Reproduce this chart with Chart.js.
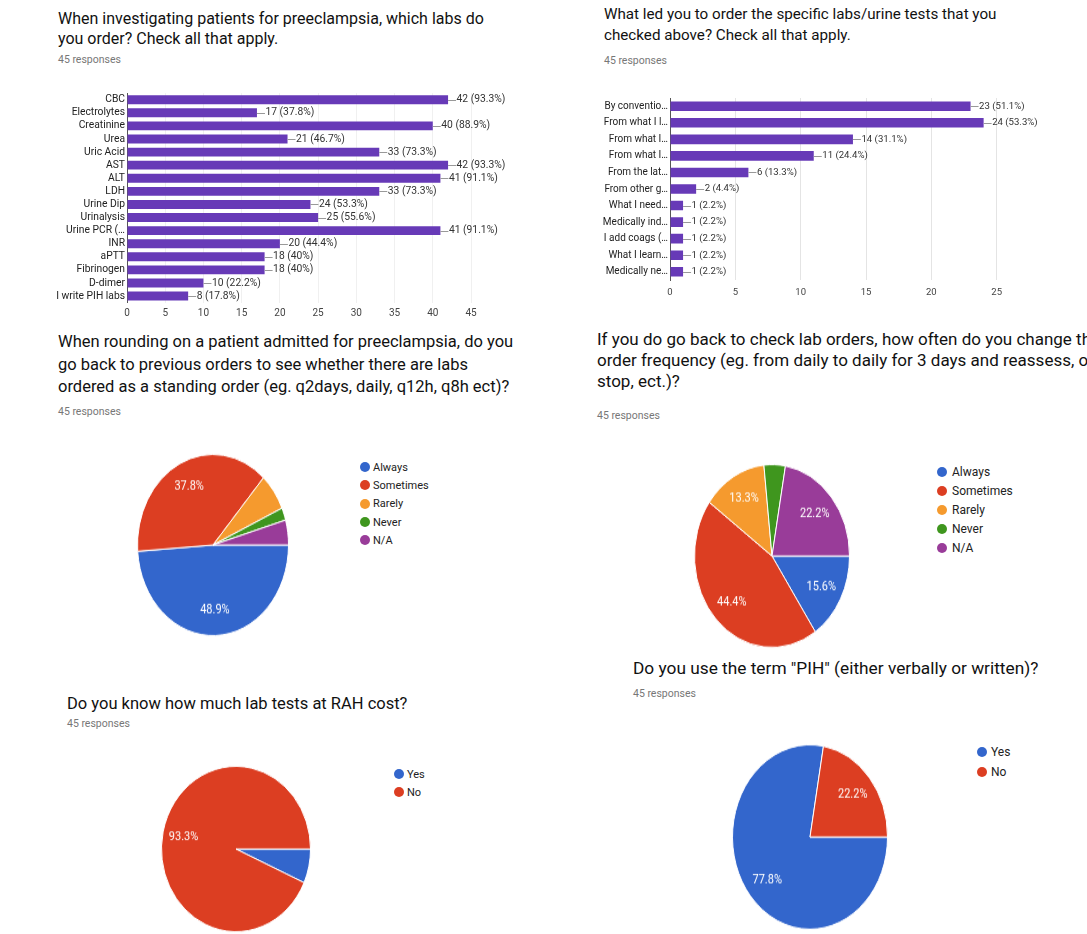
<!DOCTYPE html>
<html>
<head>
<meta charset="utf-8">
<script src="https://cdn.jsdelivr.net/npm/chart.js@4.4.0/dist/chart.umd.min.js"></script>
<style>
  body { margin: 0; background: #fff; font-family: Roboto, Arial, sans-serif; }
  #page { position: relative; width: 1087px; height: 934px; overflow: hidden; }
  .title { position: absolute; color: #111; white-space: nowrap; transform-origin: 0 0; }
  .resp { position: absolute; color: #777; font-size: 10.5px; white-space: nowrap; }
  .box { position: absolute; }
  .legend { position: absolute; color: #222; }
  .legend .row { display: flex; align-items: center; white-space: nowrap; }
  .legend .dot { width: 10px; height: 10px; border-radius: 50%; flex: none; }
</style>
</head>
<body>
<div id="page">
  <div class="title" style="left:58px;top:9px;font-size:16px;line-height:19.5px">When investigating patients for preeclampsia, which labs do<br>you order? Check all that apply.</div>
  <div class="resp" style="left:58px;top:53px">45 responses</div>
  <div class="box" id="b1" style="left:0;top:85px;width:520px;height:238px"><canvas id="c1"></canvas></div>

  <div class="title" style="left:604px;top:4px;font-size:15.2px;line-height:21px">What led you to order the specific labs/urine tests that you<br>checked above? Check all that apply.</div>
  <div class="resp" style="left:604px;top:54px">45 responses</div>
  <div class="box" id="b2" style="left:540px;top:90px;width:547px;height:210px"><canvas id="c2"></canvas></div>

  <div class="title" style="left:58px;top:331px;font-size:16.5px;line-height:22.5px">When rounding on a patient admitted for preeclampsia, do you<br>go back to previous orders to see whether there are labs<br>ordered as a standing order (eg. q2days, daily, q12h, q8h ect)?</div>
  <div class="resp" style="left:58px;top:405px">45 responses</div>
  <div class="box" id="b3" style="left:133px;top:465px;width:160px;height:160px;transform:scaleY(1.2)"><canvas id="c3"></canvas></div>
  <div class="legend" id="l3" style="left:360px;top:458px;font-size:11px"></div>

  <div class="title" style="left:597px;top:329px;font-size:17px;line-height:21px">If you do go back to check lab orders, how often do you change the<br>order frequency (eg. from daily to daily for 3 days and reassess, or<br>stop, ect.)?</div>
  <div class="resp" style="left:597px;top:409px">45 responses</div>
  <div class="box" id="b4" style="left:690px;top:474px;width:164px;height:164px;transform:scaleY(1.18)"><canvas id="c4"></canvas></div>
  <div class="legend" id="l4" style="left:937px;top:462px;font-size:12px"></div>

  <div class="title" style="left:633px;top:657px;font-size:17.3px;line-height:22px">Do you use the term "PIH" (either verbally or written)?</div>
  <div class="resp" style="left:633px;top:687px">45 responses</div>
  <div class="box" id="b6" style="left:728px;top:755px;width:164px;height:164px;transform:scaleY(1.19)"><canvas id="c6"></canvas></div>
  <div class="legend" id="l6" style="left:977px;top:742px;font-size:12px"></div>

  <div class="title" style="left:67px;top:693px;font-size:16.5px;line-height:21px">Do you know how much lab tests at RAH cost?</div>
  <div class="resp" style="left:67px;top:717px">45 responses</div>
  <div class="box" id="b5" style="left:157px;top:770px;width:158px;height:158px;transform:scaleY(1.11)"><canvas id="c5"></canvas></div>
  <div class="legend" id="l5" style="left:394px;top:765px;font-size:11px"></div>
</div>

<script>
const responses = 45;

// chart 1 - labs ordered
const labNames = ["CBC", "Electrolytes", "Creatinine", "Urea", "Uric Acid", "AST", "ALT", "LDH",
  "Urine Dip", "Urinalysis", "Urine PCR (\u2026", "INR", "aPTT", "Fibrinogen", "D-dimer", "I write PIH labs"];
const labCounts = [42, 17, 40, 21, 33, 42, 41, 33, 24, 25, 41, 20, 18, 18, 10, 8];
const labTicks = [0, 5, 10, 15, 20, 25, 30, 35, 40, 45];

// chart 2 - reasons
const reasonNames = ["By conventio\u2026", "From what I l\u2026", "From what I\u2026", "From what I\u2026", "From the lat\u2026",
  "From other g\u2026", "What I need\u2026", "Medically ind\u2026", "I add coags (\u2026", "What I learn\u2026", "Medically ne\u2026"];
const reasonCounts = [23, 24, 14, 11, 6, 2, 1, 1, 1, 1, 1];
const reasonTicks = [0, 5, 10, 15, 20, 25];

// pies
const freqLabels = ["Always", "Sometimes", "Rarely", "Never", "N/A"];
const roundingCounts = [22, 17, 3, 1, 2];
const changeCounts = [7, 20, 6, 2, 10];
const yesNo = ["Yes", "No"];
const costCounts = [3, 42];
const pihCounts = [35, 10];

const pieColors = ["#3366cc", "#dc3e22", "#f59a2e", "#3f961e", "#993c99"];
const barColor = "#673ab7";

Chart.defaults.font.family = "Roboto, Arial, sans-serif";
Chart.defaults.animation = false;

function pct(v, total) {
  let p = (v / total * 100).toFixed(1);
  if (p.endsWith(".0")) p = p.slice(0, -2);
  return p + "%";
}

// draws "-- 42 (93.3%)" after each bar
const barValues = {
  id: 'barValues',
  afterDatasetsDraw(chart, args, opts) {
    const ctx = chart.ctx;
    const ds = chart.data.datasets[0];
    ctx.save();
    ctx.font = opts.size + "px Roboto, Arial, sans-serif";
    ctx.textBaseline = "middle";
    chart.getDatasetMeta(0).data.forEach((bar, i) => {
      ctx.strokeStyle = "#999";
      ctx.lineWidth = 1;
      ctx.beginPath();
      ctx.moveTo(bar.x, Math.round(bar.y) + 0.5);
      ctx.lineTo(bar.x + 8, Math.round(bar.y) + 0.5);
      ctx.stroke();
      ctx.fillStyle = "#333";
      ctx.fillText(ds.data[i] + " (" + pct(ds.data[i], responses) + ")", bar.x + 8.5, bar.y);
    });
    ctx.restore();
  }
};

function barChart(id, names, counts, ticks, opt) {
  return new Chart(document.getElementById(id), {
    type: 'bar',
    data: {
      labels: names,
      datasets: [{ data: counts, backgroundColor: barColor, categoryPercentage: 1, barPercentage: opt.barPct }]
    },
    options: {
      indexAxis: 'y',
      responsive: true,
      maintainAspectRatio: false,
      events: [],
      layout: { padding: { top: opt.top, right: opt.right, left: 0, bottom: 0 } },
      plugins: { legend: { display: false }, tooltip: { enabled: false }, barValues: { size: opt.valSize } },
      scales: {
        x: {
          min: ticks[0], max: ticks[ticks.length - 1],
          ticks: { stepSize: ticks[1] - ticks[0], color: "#444", font: { size: opt.xSize }, padding: opt.xPad },
          grid: { color: opt.gridColor, drawTicks: false },
          border: { display: false },
          afterFit: (s) => { s.height = opt.xHeight; }
        },
        y: {
          ticks: { color: "#222", font: { size: opt.ySize }, padding: 2, autoSkip: false },
          grid: { display: false, drawTicks: false },
          border: { display: true, color: "#555", width: 1 },
          afterFit: (s) => { s.width = opt.yWidth; }
        }
      }
    },
    plugins: [barValues]
  });
}

barChart('c1', labNames, labCounts, labTicks,
  { barPct: 0.68, top: 5.4, right: 49, xHeight: 20.4, yWidth: 127, xPad: 5, ySize: 10.3, xSize: 10, valSize: 10.3, gridColor: "#f0f0f0" });
barChart('c2', reasonNames, reasonCounts, reasonTicks,
  { barPct: 0.58, top: 6.7, right: 90.3, xHeight: 20, yWidth: 130, xPad: 7, ySize: 10, xSize: 9.5, valSize: 9.6, gridColor: "#e4e4e4" });

// percentage text inside bigger slices
const pieValues = {
  id: 'pieValues',
  afterDatasetsDraw(chart) {
    const ctx = chart.ctx;
    const data = chart.data.datasets[0].data;
    const total = data.reduce((a, b) => a + b, 0);
    ctx.save();
    ctx.font = "11px Roboto, Arial, sans-serif";
    ctx.fillStyle = "#fff";
    ctx.textAlign = "center";
    ctx.textBaseline = "middle";
    chart.getDatasetMeta(0).data.forEach((arc, i) => {
      if (data[i] / total < 0.1) return;
      const mid = (arc.startAngle + arc.endAngle) / 2;
      const r = arc.outerRadius * 0.72;
      ctx.fillText(pct(data[i], total), arc.x + Math.cos(mid) * r, arc.y + Math.sin(mid) * r);
    });
    ctx.restore();
  }
};

function pieChart(id, labels, counts, pad) {
  return new Chart(document.getElementById(id), {
    type: 'pie',
    data: {
      labels: labels,
      datasets: [{ data: counts, backgroundColor: pieColors.slice(0, counts.length), borderColor: "#fff", borderWidth: 1 }]
    },
    options: {
      responsive: true,
      maintainAspectRatio: false,
      rotation: 90,
      events: [],
      layout: { padding: pad },
      plugins: { legend: { display: false }, tooltip: { enabled: false } }
    },
    plugins: [pieValues]
  });
}

function legend(id, labels, rowH, gap) {
  const el = document.getElementById(id);
  labels.forEach((name, i) => {
    const row = document.createElement('div');
    row.className = 'row';
    row.style.height = rowH + 'px';
    row.innerHTML = '<span class="dot" style="background:' + pieColors[i] + ';margin-right:' + gap + 'px"></span>' + name;
    el.appendChild(row);
  });
}

pieChart('c3', freqLabels, roundingCounts, 4);
legend('l3', freqLabels, 18.3, 3);
pieChart('c4', freqLabels, changeCounts, 4);
legend('l4', freqLabels, 19, 5);
pieChart('c5', yesNo, costCounts, 4);
legend('l5', yesNo, 18, 3);
pieChart('c6', yesNo, pihCounts, 4);
legend('l6', yesNo, 20, 4);
</script>
</body>
</html>
